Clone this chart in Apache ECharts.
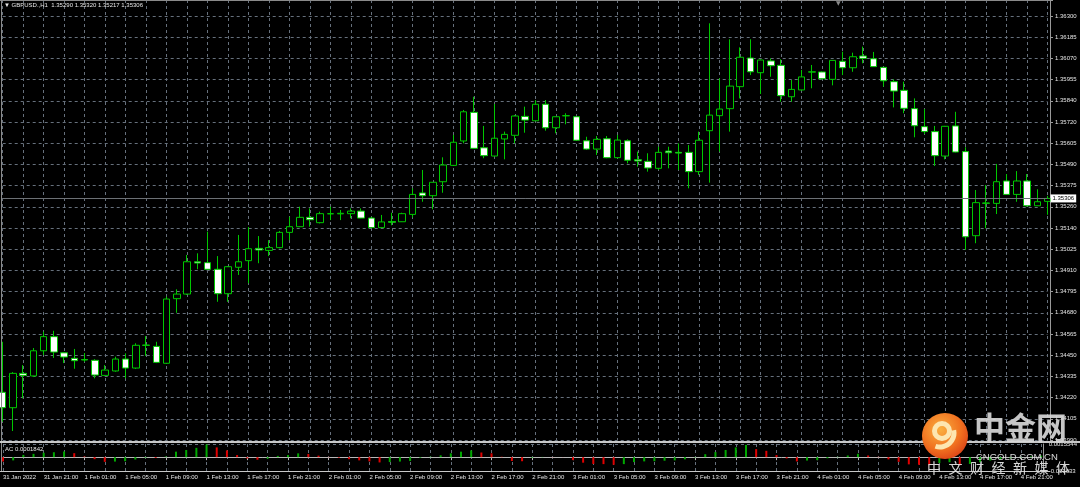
<!DOCTYPE html>
<html><head><meta charset="utf-8">
<script src="https://cdn.jsdelivr.net/npm/echarts@6/dist/echarts.min.js"></script>
<style>html,body{margin:0;padding:0;background:#000;}#c{width:1080px;height:487px;}</style>
</head><body><div id="c"></div>
<script>
// ---------------- DATA ----------------
const symbolName = 'GBPUSD.,H1';
const firstLabel = '31 Jan 2022';
const categories = [
 '31 Jan 17:00','31 Jan 18:00','31 Jan 19:00','31 Jan 20:00','31 Jan 21:00','31 Jan 22:00','31 Jan 23:00',
 '1 Feb 00:00','1 Feb 01:00','1 Feb 02:00','1 Feb 03:00','1 Feb 04:00','1 Feb 05:00','1 Feb 06:00','1 Feb 07:00','1 Feb 08:00',
 '1 Feb 09:00','1 Feb 10:00','1 Feb 11:00','1 Feb 12:00','1 Feb 13:00','1 Feb 14:00','1 Feb 15:00','1 Feb 16:00',
 '1 Feb 17:00','1 Feb 18:00','1 Feb 19:00','1 Feb 20:00','1 Feb 21:00','1 Feb 22:00','1 Feb 23:00',
 '2 Feb 00:00','2 Feb 01:00','2 Feb 02:00','2 Feb 03:00','2 Feb 04:00','2 Feb 05:00','2 Feb 06:00','2 Feb 07:00','2 Feb 08:00',
 '2 Feb 09:00','2 Feb 10:00','2 Feb 11:00','2 Feb 12:00','2 Feb 13:00','2 Feb 14:00','2 Feb 15:00','2 Feb 16:00',
 '2 Feb 17:00','2 Feb 18:00','2 Feb 19:00','2 Feb 20:00','2 Feb 21:00','2 Feb 22:00','2 Feb 23:00',
 '3 Feb 00:00','3 Feb 01:00','3 Feb 02:00','3 Feb 03:00','3 Feb 04:00','3 Feb 05:00','3 Feb 06:00','3 Feb 07:00','3 Feb 08:00',
 '3 Feb 09:00','3 Feb 10:00','3 Feb 11:00','3 Feb 12:00','3 Feb 13:00','3 Feb 14:00','3 Feb 15:00','3 Feb 16:00',
 '3 Feb 17:00','3 Feb 18:00','3 Feb 19:00','3 Feb 20:00','3 Feb 21:00','3 Feb 22:00','3 Feb 23:00',
 '4 Feb 00:00','4 Feb 01:00','4 Feb 02:00','4 Feb 03:00','4 Feb 04:00','4 Feb 05:00','4 Feb 06:00','4 Feb 07:00','4 Feb 08:00',
 '4 Feb 09:00','4 Feb 10:00','4 Feb 11:00','4 Feb 12:00','4 Feb 13:00','4 Feb 14:00','4 Feb 15:00','4 Feb 16:00',
 '4 Feb 17:00','4 Feb 18:00','4 Feb 19:00','4 Feb 20:00','4 Feb 21:00','4 Feb 22:00','4 Feb 23:00'
];
const opens = [
 1.34250,1.34166,1.34353,1.34339,1.34476,1.34553,1.34465,1.34435,1.34428,1.34424,
 1.34342,1.34366,1.34431,1.34382,1.34507,1.34500,1.34408,1.34760,1.34785,1.34961,
 1.34956,1.34920,1.34787,1.34931,1.34967,1.35034,1.35023,1.35038,1.35121,1.35152,
 1.35203,1.35174,1.35223,1.35222,1.35223,1.35237,1.35199,1.35147,1.35180,1.35179,
 1.35219,1.35336,1.35321,1.35397,1.35486,1.35619,1.35775,1.35582,1.35537,1.35630,
 1.35650,1.35753,1.35729,1.35819,1.35691,1.35757,1.35751,1.35620,1.35575,1.35631,
 1.35528,1.35620,1.35517,1.35508,1.35470,1.35564,1.35557,1.35557,1.35452,1.35675,
 1.35757,1.35795,1.35915,1.36071,1.35991,1.36055,1.36031,1.35860,1.35897,1.35994,
 1.35995,1.35955,1.36053,1.36018,1.36082,1.36067,1.36020,1.35942,1.35895,1.35795,
 1.35697,1.35670,1.35537,1.35701,1.35561,1.35103,1.35281,1.35279,1.35401,1.35328,
 1.35401,1.35266,1.35290
];
const highs = [
 1.34525,1.34360,1.34398,1.34491,1.34580,1.34585,1.34469,1.34486,1.34464,1.34430,
 1.34398,1.34444,1.34462,1.34517,1.34556,1.34525,1.34771,1.34811,1.34998,1.35007,
 1.35125,1.34992,1.34938,1.35107,1.35150,1.35101,1.35079,1.35129,1.35206,1.35261,
 1.35252,1.35234,1.35261,1.35243,1.35252,1.35252,1.35206,1.35216,1.35228,1.35228,
 1.35361,1.35461,1.35395,1.35530,1.35652,1.35788,1.35860,1.35701,1.35820,1.35670,
 1.35760,1.35806,1.35842,1.35842,1.35752,1.35770,1.35752,1.35642,1.35646,1.35646,
 1.35652,1.35628,1.35561,1.35552,1.35588,1.35588,1.35606,1.35597,1.35670,1.36260,
 1.35960,1.36173,1.36129,1.36173,1.36063,1.36069,1.36064,1.35951,1.36006,1.36033,
 1.35998,1.36060,1.36105,1.36100,1.36133,1.36104,1.36022,1.35955,1.35942,1.35851,
 1.35793,1.35701,1.35701,1.35778,1.35585,1.35352,1.35379,1.35494,1.35439,1.35455,
 1.35439,1.35356,1.35320
];
const lows = [
 1.34090,1.34039,1.34217,1.34333,1.34453,1.34437,1.34409,1.34378,1.34416,1.34326,
 1.34339,1.34362,1.34326,1.34377,1.34448,1.34409,1.34404,1.34683,1.34780,1.34920,
 1.34916,1.34743,1.34743,1.34889,1.34844,1.34953,1.34992,1.35034,1.35079,1.35150,
 1.35152,1.35170,1.35188,1.35188,1.35198,1.35198,1.35145,1.35145,1.35160,1.35178,
 1.35203,1.35288,1.35247,1.35337,1.35483,1.35606,1.35578,1.35525,1.35535,1.35519,
 1.35606,1.35664,1.35728,1.35675,1.35661,1.35710,1.35622,1.35570,1.35543,1.35525,
 1.35525,1.35497,1.35479,1.35452,1.35461,1.35470,1.35461,1.35361,1.35434,1.35392,
 1.35561,1.35670,1.35851,1.35978,1.35875,1.35969,1.35833,1.35833,1.35894,1.35906,
 1.35957,1.35922,1.35978,1.35996,1.36042,1.36022,1.35915,1.35802,1.35770,1.35639,
 1.35657,1.35483,1.35519,1.35557,1.35025,1.35062,1.35143,1.35221,1.35327,1.35288,
 1.35261,1.35265,1.35217
];
const closes = [
 1.34166,1.34353,1.34342,1.34476,1.34553,1.34469,1.34442,1.34422,1.34426,1.34344,
 1.34371,1.34431,1.34382,1.34506,1.34506,1.34413,1.34758,1.34785,1.34961,1.34954,
 1.34920,1.34787,1.34934,1.34961,1.35032,1.35025,1.35038,1.35121,1.35152,1.35203,
 1.35190,1.35223,1.35222,1.35225,1.35237,1.35199,1.35147,1.35178,1.35176,1.35223,
 1.35328,1.35321,1.35394,1.35488,1.35612,1.35778,1.35579,1.35539,1.35634,1.35655,
 1.35755,1.35733,1.35819,1.35691,1.35751,1.35756,1.35623,1.35575,1.35628,1.35528,
 1.35624,1.35514,1.35510,1.35472,1.35557,1.35555,1.35553,1.35452,1.35623,1.35760,
 1.35793,1.35918,1.36075,1.35996,1.36060,1.36029,1.35866,1.35900,1.35968,1.35996,
 1.35958,1.36058,1.36018,1.36078,1.36069,1.36024,1.35947,1.35891,1.35797,1.35702,
 1.35670,1.35539,1.35699,1.35559,1.35097,1.35283,1.35280,1.35397,1.35328,1.35401,
 1.35266,1.35288,1.35306
];
// Accelerator Oscillator (AC) values
const acValues = [
 -0.00050,-0.00038,0.00027,0.00039,0.00052,0.00058,0.00067,0.00047,0.00008,-0.00024,
 -0.00055,-0.00052,-0.00048,-0.00028,-0.00008,-0.00010,0.00008,0.00065,0.00085,0.00110,
 0.00150,0.00115,0.00080,0.00025,-0.00015,-0.00030,-0.00018,0.00015,0.00025,0.00045,
 0.00038,0.00018,0.00003,-0.00008,-0.00024,-0.00038,-0.00050,-0.00062,-0.00058,-0.00052,
 -0.00046,-0.00008,0.00006,0.00022,0.00045,0.00065,0.00080,0.00055,0.00045,0.00005,
 -0.00045,-0.00048,-0.00008,0.00003,0.00002,0.00001,-0.00035,-0.00065,-0.00080,-0.00082,
 -0.00090,-0.00082,-0.00058,-0.00050,-0.00048,-0.00042,-0.00038,-0.00026,-0.00005,0.00035,
 0.00060,0.00085,0.00115,0.00145,0.00095,0.00075,0.00025,-0.00015,-0.00050,-0.00040,
 -0.00035,-0.00013,0.00004,0.00020,0.00040,0.00020,0.00004,-0.00026,-0.00055,-0.00085,
 -0.00090,-0.00095,-0.00070,-0.00060,-0.00095,-0.00080,-0.00060,-0.00040,-0.00030,-0.00015,
 -0.00005,0.00008,0.0001842
];
// price scale tick labels (bottom to top)
const priceTicks = ['1.33990','1.34105','1.34220','1.34335','1.34450','1.34565','1.34680','1.34795','1.34910','1.35025',
 '1.35140','1.35260','1.35375','1.35490','1.35605','1.35720','1.35840','1.35955','1.36070','1.36185','1.36300'];
const acMaxLabel = '0.0015544';
const acMinLabel = '-0.001633';
const acMax = 0.0015544;
const acMin = -0.001633;
const watermarkTitle = '中金网';
const watermarkSite = 'CNGOLD.COM.CN';
const watermarkSlogan = ['中','文','财','经','新','媒','体'];

// ---------------- CHART ----------------
const P_MIN = 1.3399, P_STEP = 0.001155, P_MAX = 1.36387;
const GRID_C = '#66707c';
const WICK = '#00c800';
const UP = '#00a800', DOWN = '#e00000';
const TXT = '#e6e6e6';
const FONT = 'Liberation Sans';
const last = closes.length - 1;

const candleData = opens.map((o, i) => [o, closes[i], lows[i], highs[i]]);
const acData = acValues.map((v, i) => ({ value: v, itemStyle: { color: (i > 0 && v > acValues[i - 1]) ? UP : DOWN } }));

const chart = echarts.init(document.getElementById('c'), null, { renderer: 'canvas', width: 1080, height: 487 });
const gridLeft = 2.7, gridWidth = 1044.8;

const slogan = watermarkSlogan.map((ch, i) => ({
  type: 'text', left: 927 + i * 21.5, top: 461, z: 101,
  style: { text: ch, fill: 'rgba(225,225,225,0.95)', font: '14px "Noto Sans CJK SC"' }
}));

chart.setOption({
  backgroundColor: '#000',
  animation: false,
  grid: [
    { left: gridLeft, top: 0, width: gridWidth, height: 440 },
    { left: gridLeft, top: 444, width: gridWidth, height: 27 }
  ],
  xAxis: [
    { gridIndex: 0, type: 'category', data: categories, boundaryGap: false,
      axisLine: { show: false }, axisTick: { show: false }, axisLabel: { show: false },
      splitLine: { show: true, interval: 1, lineStyle: { color: GRID_C, type: [3, 3], width: 1 } } },
    { gridIndex: 1, type: 'category', data: categories, boundaryGap: false,
      axisLine: { show: true, lineStyle: { color: '#b8b8b8', width: 1 } },
      axisTick: { show: true, interval: 3, length: 3, lineStyle: { color: '#b8b8b8' } },
      axisLabel: { show: true, interval: 3, align: 'left', margin: 3, color: TXT, fontSize: 6, fontFamily: FONT,
        formatter: (v, idx) => idx === 0 ? firstLabel : v },
      splitLine: { show: true, interval: 1, lineStyle: { color: GRID_C, type: [3, 3], width: 1 } } }
  ],
  yAxis: [
    { gridIndex: 0, type: 'value', position: 'right', offset: 2.5, min: P_MIN, max: P_MAX, interval: P_STEP,
      axisLine: { show: true, lineStyle: { color: '#9a9a9a' } },
      axisTick: { show: true, length: 3, lineStyle: { color: '#9a9a9a' } },
      axisLabel: { color: TXT, fontSize: 6, fontFamily: FONT, margin: 5,
        formatter: v => { const k = Math.round((v - P_MIN) / P_STEP); return (Math.abs(v - (P_MIN + k * P_STEP)) < 1e-7 && priceTicks[k]) ? priceTicks[k] : ''; } },
      splitLine: { show: true, lineStyle: { color: GRID_C, type: [3, 3], width: 1 } } },
    { gridIndex: 1, type: 'value', position: 'right', offset: 2.5, min: acMin, max: acMax, interval: -acMin,
      axisLine: { show: true, lineStyle: { color: '#9a9a9a' } },
      axisTick: { show: false },
      axisLabel: { color: TXT, fontSize: 6, fontFamily: FONT, margin: 5,
        formatter: v => Math.abs(v - acMax) < 1e-9 ? acMaxLabel : (Math.abs(v - acMin) < 1e-9 ? acMinLabel : '') },
      splitLine: { show: true, lineStyle: { color: GRID_C, type: [3, 3], width: 1 } } }
  ],
  series: [
    { type: 'candlestick', xAxisIndex: 0, yAxisIndex: 0, data: candleData, barWidth: 7, clip: false,
      itemStyle: { color: '#000000', color0: '#ffffff', borderColor: WICK, borderColor0: WICK, borderWidth: 1 } },
    { type: 'line', xAxisIndex: 0, yAxisIndex: 0, data: [], silent: true,
      markLine: { silent: true, symbol: ['none', 'none'], animation: false, precision: 5,
        lineStyle: { color: '#6c7075', type: 'solid', width: 1 },
        label: { show: true, position: 'end', distance: 3, formatter: () => closes[last].toFixed(5),
          backgroundColor: '#ffffff', color: '#000', fontSize: 6, fontFamily: FONT, padding: [1, 2, 1, 2] },
        data: [{ yAxis: closes[last] }] } },
    { type: 'bar', xAxisIndex: 1, yAxisIndex: 1, data: acData, barWidth: 2 }
  ],
  graphic: [
    { type: 'line', shape: { x1: 0, y1: 0.5, x2: 1050, y2: 0.5 }, style: { stroke: '#8a8a8a', lineWidth: 1 }, z: 50 },
    { type: 'line', shape: { x1: 1.5, y1: 0, x2: 1.5, y2: 472 }, style: { stroke: '#8a8a8a', lineWidth: 1 }, z: 50 },
    { type: 'line', shape: { x1: 0, y1: 442, x2: 1080, y2: 442 }, style: { stroke: '#c8c8c8', lineWidth: 2 }, z: 50 },
    { type: 'line', shape: { x1: 0, y1: 471.5, x2: 1050, y2: 471.5 }, style: { stroke: '#c8c8c8', lineWidth: 1 }, z: 50 },
    { type: 'text', left: 4, top: 2, z: 60,
      style: { text: '▼ ' + symbolName + '  ' + [opens[last], highs[last], lows[last], closes[last]].map(v => v.toFixed(5)).join(' '),
        fill: TXT, font: '6px "Liberation Sans"' } },
    { type: 'text', left: 836, top: 0, z: 60, style: { text: '▼', fill: '#8a8a8a', font: '6px "DejaVu Sans"' } },
    { type: 'text', left: 5, top: 446, z: 60,
      style: { text: 'AC ' + acValues[last].toFixed(7), fill: TXT, font: '6px "Liberation Sans"' } },
    // watermark logo
    { type: 'circle', shape: { cx: 945, cy: 436, r: 23 }, z: 100,
      style: { fill: new echarts.graphic.RadialGradient(0.4, 0.35, 0.75, [{ offset: 0, color: '#fbb040' }, { offset: 0.6, color: '#f0701f' }, { offset: 1, color: '#d83a16' }]) } },
    { type: 'arc', shape: { cx: 942, cy: 431, r: 7.5, startAngle: 0, endAngle: Math.PI * 2 }, z: 101,
      style: { stroke: '#fde6b0', lineWidth: 5, fill: null } },
    { type: 'arc', shape: { cx: 940, cy: 433, r: 14, startAngle: -0.2, endAngle: 1.9 }, z: 101,
      style: { stroke: '#fde6b0', lineWidth: 5, fill: null } },
    { type: 'text', left: 974, top: 412, z: 101,
      style: { text: watermarkTitle, fill: 'rgba(215,215,215,0.92)', font: 'bold 31px "Noto Sans CJK SC"' } },
    { type: 'text', left: 976, top: 452, z: 101,
      style: { text: watermarkSite, fill: 'rgba(225,225,225,0.95)', font: '9.5px "Liberation Sans"' } }
  ].concat(slogan)
});
</script></body></html>
